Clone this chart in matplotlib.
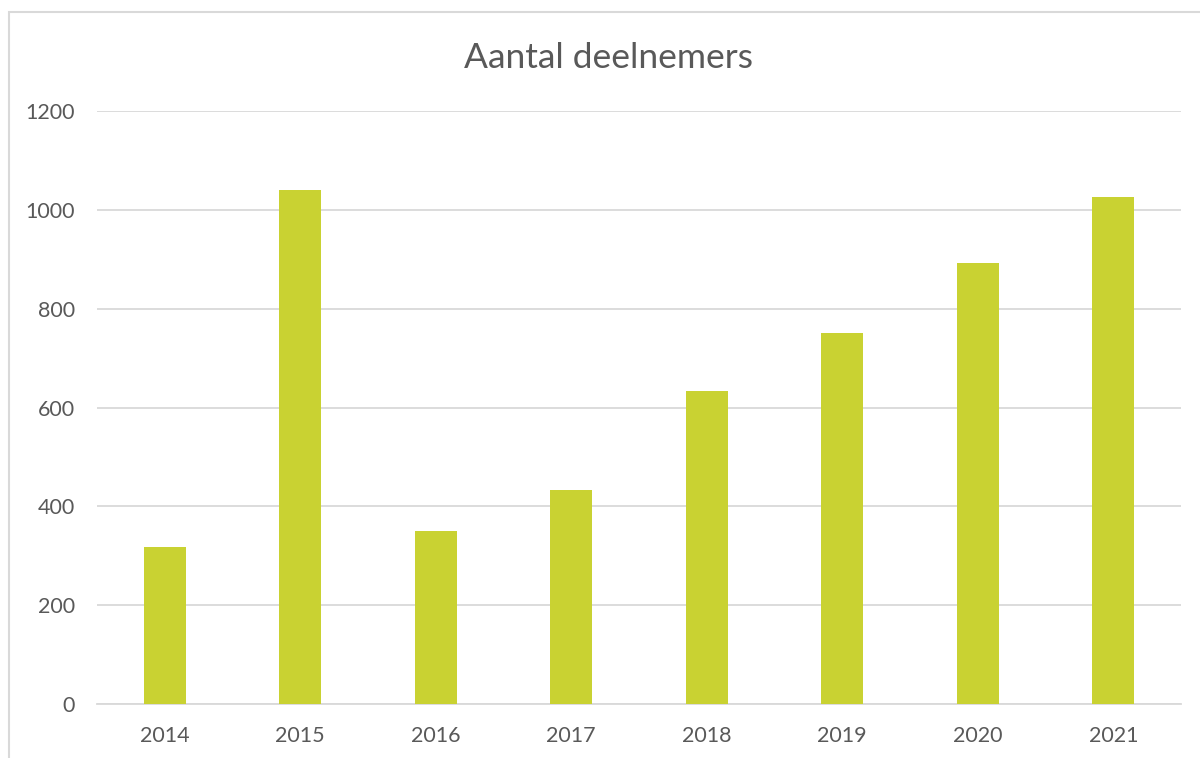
import matplotlib
matplotlib.use("Agg")
import matplotlib.pyplot as plt
from matplotlib.patches import Rectangle

years = ["2014", "2015", "2016", "2017", "2018", "2019", "2020", "2021"]
deelnemers = [318, 1040, 350, 433, 633, 751, 892, 1026]
yticks = [0, 200, 400, 600, 800, 1000, 1200]

plt.rcParams['font.family'] = ['Lato', 'DejaVu Sans']
text_color = "#595959"
grid_color = "#d9d9d9"
bar_color = "#c9d232"

fig = plt.figure(figsize=(12, 7.58), dpi=100)
ax = fig.add_axes([97/1200, 1 - 704/758, (1181-97)/1200, (704-111)/758])

x = range(len(years))
ax.bar(x, deelnemers, width=0.31, color=bar_color, zorder=3)
ax.set_xlim(-0.5, len(years) - 0.5)
ax.set_ylim(0, 1200)
ax.set_yticks(yticks)
ax.set_yticklabels([str(v) for v in yticks])
ax.set_xticks(list(x))
ax.set_xticklabels(years)
ax.yaxis.grid(True, color=grid_color, linewidth=1.3, zorder=0)
for s in ["top", "right", "left"]:
    ax.spines[s].set_visible(False)
ax.spines["bottom"].set_color(grid_color)
ax.spines["bottom"].set_linewidth(1.3)
ax.tick_params(axis="both", length=0, labelsize=15.5, colors=text_color)
ax.tick_params(axis="y", pad=16)
ax.tick_params(axis="x", pad=16)

fig.text(609/1200, 1 - 58/758, "Aantal deelnemers", ha="center", va="center",
         fontsize=25.5, color=text_color, fontweight="normal")

fig.patches.append(Rectangle((9/1200, -0.1), 1.2, 1 - 12/758 + 0.1,
                             transform=fig.transFigure, fill=False,
                             edgecolor=grid_color, linewidth=1.5))

fig.savefig("out.png", dpi=100, facecolor="white")
